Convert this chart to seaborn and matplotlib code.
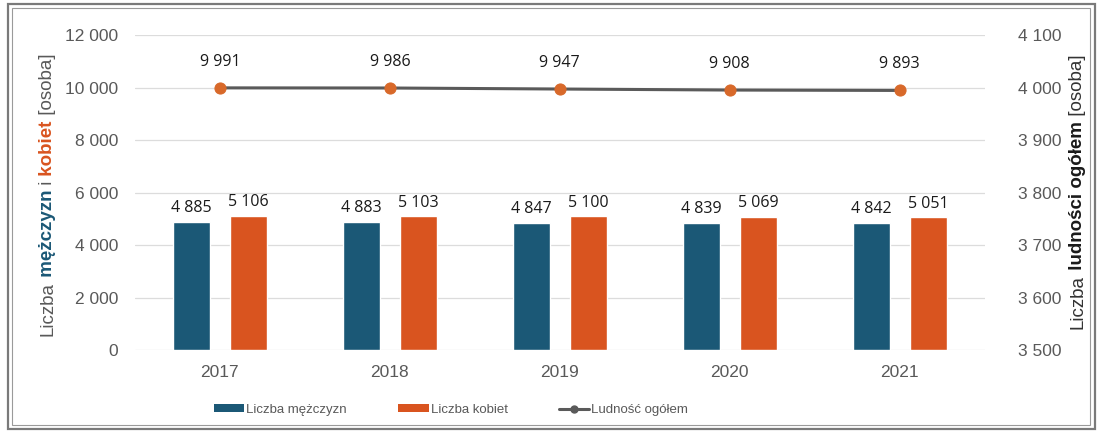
import numpy as np
import pandas as pd
import matplotlib
matplotlib.use("Agg")
import matplotlib.pyplot as plt
from matplotlib.patches import Patch, Rectangle
from matplotlib.lines import Line2D
import seaborn as sns

# -----------------------------------------------------------------------------
# Data
# -----------------------------------------------------------------------------
years = ["2017", "2018", "2019", "2020", "2021"]
men = [4885, 4883, 4847, 4839, 4842]
women = [5106, 5103, 5100, 5069, 5051]
total = [9991, 9986, 9947, 9908, 9893]

left_ticks = [0, 2000, 4000, 6000, 8000, 10000, 12000]
right_ticks = [3500, 3600, 3700, 3800, 3900, 4000, 4100]

C_MEN = "#1b5876"
C_WOMEN = "#d9541f"
C_LINE = "#5a5a5a"
C_MARK = "#d8692a"
C_TXT = "#595959"


def fmt(v):
    return f"{v:,}".replace(",", " ")


sns.set_style("white")
plt.rcParams["font.family"] = ["Liberation Sans", "DejaVu Sans"]

df = pd.DataFrame({
    "year": years * 2,
    "value": men + women,
    "sex": ["Liczba mężczyzn"] * len(years) + ["Liczba kobiet"] * len(years),
})
df_tot = pd.DataFrame({"pos": np.arange(len(years)), "total": total})

fig = plt.figure(figsize=(11, 4.34), dpi=100)
ax = fig.add_axes([0.1227, 0.1935, 0.7723, 0.7255])

sns.barplot(data=df, x="year", y="value", hue="sex",
            palette=[C_MEN, C_WOMEN], width=0.67, gap=0.35,
            legend=False, ax=ax, saturation=1)
sns.lineplot(data=df_tot, x="pos", y="total", color=C_LINE, linewidth=2.2,
             marker="o", markersize=8, markerfacecolor=C_MARK,
             markeredgecolor=C_MARK, ax=ax, legend=False)

# bar value labels
for cont in ax.containers:
    ax.bar_label(cont, labels=[fmt(int(b.get_height())) for b in cont],
                 padding=4, fontsize=11.5, family="Open Sans", color="#1a1a1a")

# line value labels
for i, v in enumerate(total):
    ax.annotate(fmt(v), (i, v), xytext=(0, 13), textcoords="offset points",
                ha="center", va="bottom", fontsize=11.5, family="Open Sans",
                color="#1a1a1a")

ax.set_ylim(0, 12000)
ax.set_xlim(-0.5, len(years) - 0.5)
ax.set_yticks(left_ticks)
ax.set_yticklabels([fmt(t) for t in left_ticks])
ax.set_xlabel("")
ax.set_ylabel("")
ax.grid(axis="y", color="#dcdcdc", linewidth=0.9)
ax.set_axisbelow(True)
ax.tick_params(axis="both", length=0, labelsize=12.5, colors=C_TXT)
ax.tick_params(axis="y", pad=12)
ax.tick_params(axis="x", pad=11)
for s in ax.spines.values():
    s.set_visible(False)

ax2 = ax.twinx()
ax2.set_ylim(3500, 4100)
ax2.set_yticks(right_ticks)
ax2.set_yticklabels([fmt(t) for t in right_ticks])
ax2.tick_params(axis="y", length=0, labelsize=12.5, colors=C_TXT, pad=24)
for s in ax2.spines.values():
    s.set_visible(False)

# legend
handles = [
    Patch(facecolor=C_MEN, edgecolor="none"),
    Patch(facecolor=C_WOMEN, edgecolor="none"),
    Line2D([0], [0], color=C_LINE, linewidth=2.2, marker="o", markersize=5,
           markerfacecolor=C_LINE, markeredgecolor=C_LINE),
]
labels = ["Liczba mężczyzn", "Liczba kobiet", "Ludność ogółem"]
leg = fig.legend(handles, labels, loc="center", bbox_to_anchor=(0.41, 0.055),
                 ncol=3, frameon=False, fontsize=9.5, handlelength=2.3,
                 handleheight=0.55, handletextpad=0.15, columnspacing=3.9)
for t in leg.get_texts():
    t.set_color(C_TXT)


# multicolour rotated axis titles
def stacked_label(x_px, center_px, parts, size=13.5):
    fig.canvas.draw()
    r = fig.canvas.get_renderer()
    texts = []
    for s, c, w in parts:
        t = fig.text(0, 0, s, color=c, fontweight=w, fontsize=size,
                     rotation=90, rotation_mode="anchor",
                     ha="left", va="baseline")
        texts.append(t)
    lengths = [t.get_window_extent(r).height for t in texts]
    H = fig.bbox.height
    y = (H - center_px) - sum(lengths) / 2
    for t, L in zip(texts, lengths):
        t.set_position((x_px / fig.bbox.width, y / H))
        y += L


# spaces kept at the start of each piece so they are measured
stacked_label(52, 195, [("Liczba", C_TXT, "normal"),
                        (" mężczyzn", C_MEN, "bold"),
                        (" i", C_TXT, "normal"),
                        (" kobiet", C_WOMEN, "bold"),
                        (" [osoba]", C_TXT, "normal")])
stacked_label(1082, 192, [("Liczba", "#333333", "normal"),
                          (" ludności ogółem", "#1a1a1a", "bold"),
                          (" [osoba]", "#333333", "normal")])

# double frame around the figure
fig.patches.append(Rectangle((0.007, 0.012), 0.988, 0.978, transform=fig.transFigure,
                             fill=False, edgecolor="#7a7a7a", linewidth=1.6))
fig.patches.append(Rectangle((0.011, 0.02), 0.98, 0.962, transform=fig.transFigure,
                             fill=False, edgecolor="#9a9a9a", linewidth=0.8))

fig.savefig("out.png", dpi=100)
